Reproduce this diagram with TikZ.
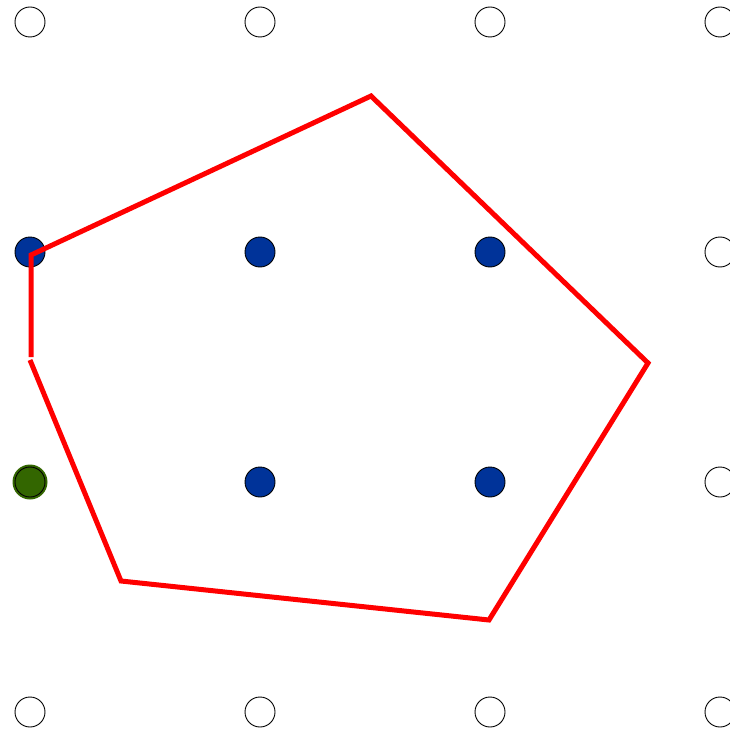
\documentclass[tikz,border=0pt]{standalone}
\begin{document}
\begin{tikzpicture}[x=1pt,y=-1pt,
  emptydot/.style={circle,draw=black,line width=0.9pt,fill=white,minimum size=30pt,inner sep=0pt},
  bluedot/.style={circle,draw=black,line width=0.9pt,fill={rgb,255:red,0;green,51;blue,153},minimum size=30pt,inner sep=0pt},
  greendot/.style={circle,draw=black,line width=0.9pt,fill={rgb,255:red,51;green,102;blue,0},minimum size=30pt,inner sep=0pt},
  greenring/.style={circle,fill={rgb,255:red,51;green,102;blue,0},minimum size=35pt,inner sep=0pt},
  polyline/.style={draw={rgb,255:red,255;green,0;blue,0},line width=5pt,line join=miter}]
\useasboundingbox (0,0) rectangle (729,730);
% grid of points
\foreach \i/\x in {0/30,1/260,2/490,3/720}{
  \node[emptydot] (t\i) at (\x,22) {};
  \node[emptydot] (b\i) at (\x,712) {};
}
\node[emptydot] (r1) at (720,252) {};
\node[emptydot] (r2) at (720,482) {};
\node[bluedot] (p1) at (30,252) {};
\node[bluedot] (p2) at (260,252) {};
\node[bluedot] (p3) at (490,252) {};
\node[bluedot] (p4) at (260,482) {};
\node[bluedot] (p5) at (490,482) {};
\node[greenring] (gr) at (30,482) {};
\node[greendot] (g) at (30,482) {};
% polygon
\coordinate (v0) at (31,357);
\coordinate (v1) at (31,255);
\coordinate (v2) at (371,96);
\coordinate (v3) at (648,363);
\coordinate (v4) at (489,620);
\coordinate (v5) at (121,581);
\coordinate (v6) at (30,360);
\draw[polyline] (v0) -- (v1) -- (v2) -- (v3) -- (v4) -- (v5) -- (v6);
\end{tikzpicture}
\end{document}
